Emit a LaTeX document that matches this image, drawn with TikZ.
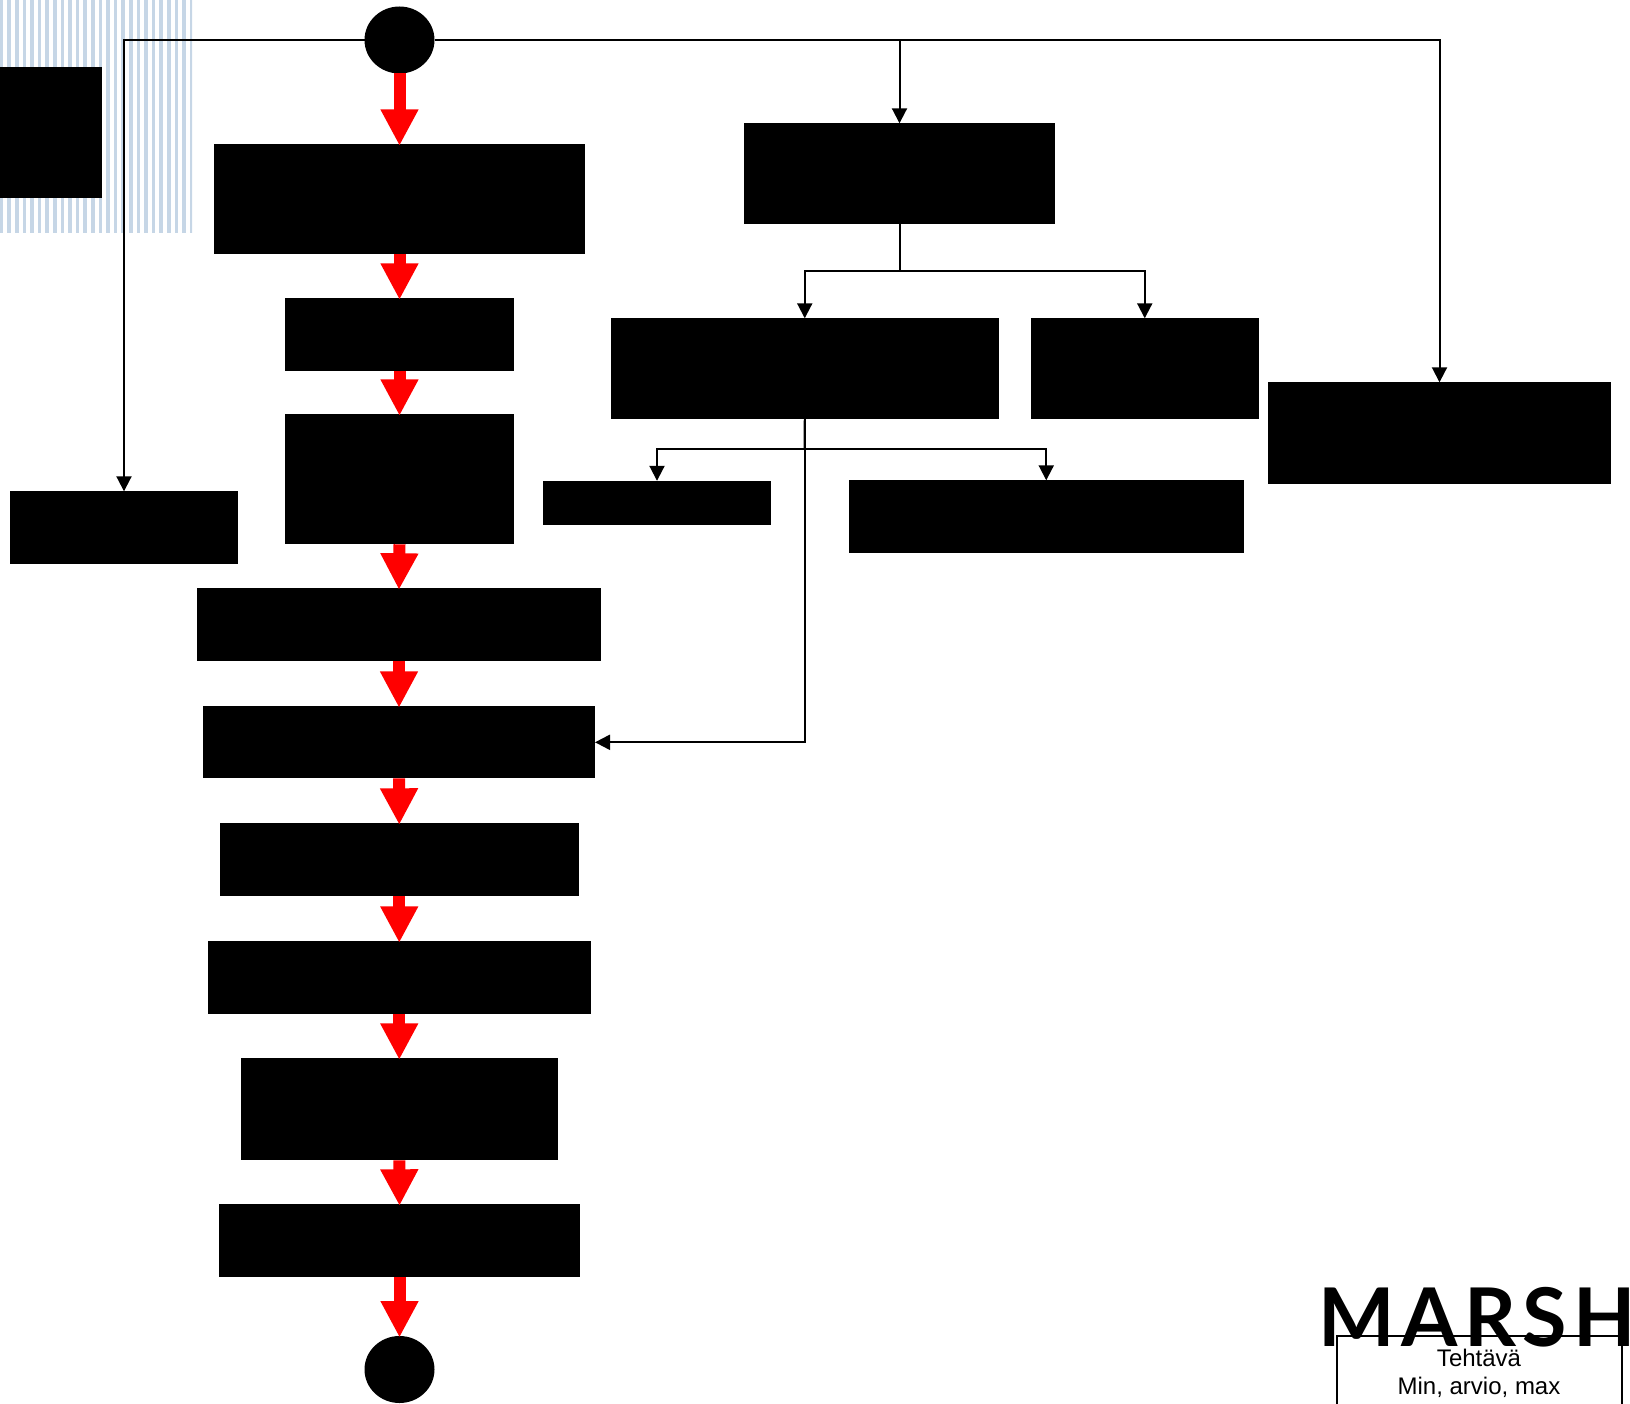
\documentclass[tikz,border=0pt]{standalone}
\usepackage{fontspec}
\setmainfont{Liberation Sans}
\newfontfamily\logofont{Lato}
\usetikzlibrary{shapes.geometric,arrows.meta}
\definecolor{stripeblue}{HTML}{C6D6E6}
\tikzset{
  blackbox/.style={rectangle,fill=black,draw=none,inner sep=0pt,outer sep=0pt,anchor=north west},
  blackdot/.style={ellipse,fill=black,draw=none,inner sep=0pt,outer sep=0pt,minimum width=70pt,minimum height=67pt},
  redflow/.style={draw=red,line width=12pt,shorten >=-1.5pt,-{Triangle[width=35.5pt,length=36.5pt,fill=red]}},
  conn/.style={draw=black,line width=2pt,-{Triangle[width=15pt,length=15pt,fill=black]}},
  plainconn/.style={draw=black,line width=2pt},
}
\newcommand{\bbox}[5]{%
  \pgfmathsetlengthmacro{\bw}{#4-#2}\pgfmathsetlengthmacro{\bh}{#5-#3}%
  \node[blackbox,minimum width=\bw,minimum height=\bh] (#1) at (#2,{#3+0.3}) {};}
\begin{document}
\begin{tikzpicture}[x=1pt,y=-1pt]
\useasboundingbox (0,0) rectangle (1630,1404);
\clip (0,0) rectangle (1630,1404);
% striped panel
\begin{scope}
\clip (0,0) rectangle (192,233);
\foreach \i in {0,...,25}{
  \fill[stripeblue] ({\i*7.6-0.3},0) rectangle ({\i*7.6+3.4},233);
}
\end{scope}
% boxes
\bbox{note}{0}{67}{102}{198}
\bbox{b1}{214}{144}{585}{254}
\bbox{b2}{285}{298}{514}{371}
\bbox{b3}{285}{414}{514}{544}
\bbox{b4}{197}{588}{601}{661}
\bbox{b5}{203}{706}{595}{778}
\bbox{b6}{219.5}{823}{579}{896}
\bbox{b7}{208}{941}{590.5}{1014}
\bbox{b8}{241}{1058}{557.5}{1160}
\bbox{b9}{219}{1204}{580}{1277}
\bbox{rtop}{744}{123}{1055}{224}
\bbox{r1}{610.5}{318}{999}{419}
\bbox{r2}{1030.5}{318}{1259}{419}
\bbox{r3}{1268}{382}{1611}{484}
\bbox{s1}{543}{480.5}{771}{524.5}
\bbox{s2}{849}{480}{1243.5}{553}
\bbox{ll}{10}{491}{238}{564}
\node[blackdot] (top) at (399.5,40) {};
\node[blackdot] (bot) at (399.5,1369.5) {};
\coordinate (j1) at (899.5,271);
\coordinate (j2) at (804.5,449);
% black connectors
\draw[conn] (top.west) -| (ll.north);
\draw[conn] (top.east) -| (rtop.north);
\draw[conn] (top.east) -| (r3.north);
\draw[plainconn] (rtop.south) -- (j1);
\draw[conn] (j1) -| (r1.north);
\draw[conn] (j1) -| (r2.north);
\draw[plainconn] (r1.south) -- (j2);
\draw[conn] (j2) -| (s1.north);
\draw[conn] (j2) -| (s2.north);
\draw[conn] (r1.south) |- (b5.east);
% red flow
\draw[redflow] (top.south) -- (b1.north);
\draw[redflow] (b1.south) -- (b2.north);
\draw[redflow] (b2.south) -- (b3.north);
\draw[redflow] (b3.south) -- (b4.north);
\draw[redflow] (b4.south) -- (b5.north);
\draw[redflow] (b5.south) -- (b6.north);
\draw[redflow] (b6.south) -- (b7.north);
\draw[redflow] (b7.south) -- (b8.north);
\draw[redflow] (b8.south) -- (b9.north);
\draw[redflow] (b9.south) -- (bot.north);
% legend
\node[anchor=west,inner sep=0pt,text=black] (logo) at (1318,1317) {\logofont\bfseries\fontsize{81}{81}\selectfont\addfontfeature{LetterSpace=8}MARSH};
\draw[line width=2pt] (1337,1420) -- (1337,1335.5) -- (1621.5,1335.5) -- (1621.5,1420);
\node[inner sep=0pt,font=\fontsize{24}{28}\selectfont] (t1) at (1479,1358) {Tehtävä};
\node[inner sep=0pt,font=\fontsize{24}{28}\selectfont] (t2) at (1479,1387) {Min, arvio, max};
\end{tikzpicture}
\end{document}
